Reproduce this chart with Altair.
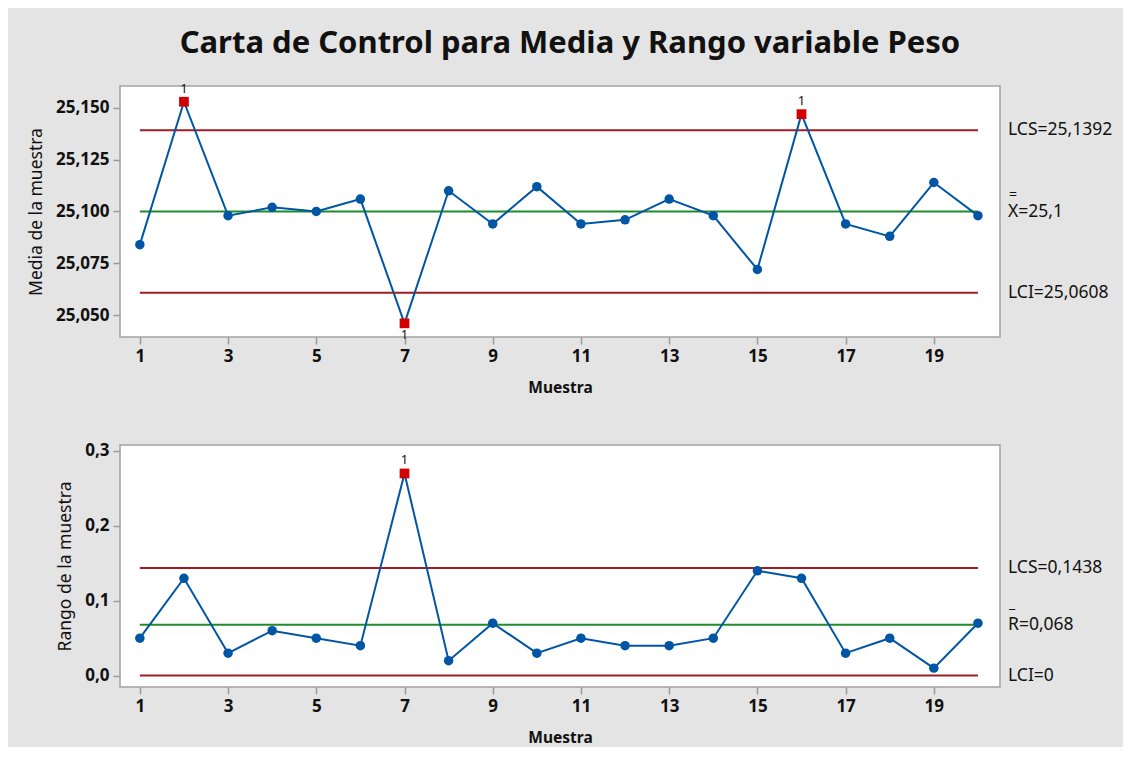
import altair as alt
import pandas as pd

# ---------------- data ----------------
muestra = list(range(1, 21))
media = [25.084, 25.153, 25.098, 25.102, 25.100, 25.106, 25.046, 25.110, 25.094, 25.112,
         25.094, 25.096, 25.106, 25.098, 25.072, 25.147, 25.094, 25.088, 25.114, 25.098]
rango = [0.05, 0.13, 0.03, 0.06, 0.05, 0.04, 0.27, 0.02, 0.07, 0.03,
         0.05, 0.04, 0.04, 0.05, 0.14, 0.13, 0.03, 0.05, 0.01, 0.07]
# test failed (0 = none, 1 = test 1)
prueba_media = [0, 1, 0, 0, 0, 0, 1, 0, 0, 0, 0, 0, 0, 0, 0, 1, 0, 0, 0, 0]
prueba_rango = [0, 0, 0, 0, 0, 0, 1, 0, 0, 0, 0, 0, 0, 0, 0, 0, 0, 0, 0, 0]

tipos = ["LCS", "LC", "LCI"]
limites_media = [25.1392, 25.1, 25.0608]
limites_rango = [0.1438, 0.068, 0.0]
etiquetas_media = ["LCS=25,1392", "X=25,1", "LCI=25,0608"]
etiquetas_rango = ["LCS=0,1438", "R=0,068", "LCI=0"]

x_ticks = [1, 3, 5, 7, 9, 11, 13, 15, 17, 19]
ticks_media = [25.050, 25.075, 25.100, 25.125, 25.150]
ticks_rango = [0.0, 0.1, 0.2, 0.3]

titulo = "Carta de Control para Media y Rango variable Peso"

# ---------------- style ----------------
FONT = "Noto Sans"
BLUE = "#0055A5"
RED_PT = "#D20000"
RED_LINE = "#A11D21"
GREEN = "#1F8B2B"
TXT = "#111111"
W = 880


def panel(values, pruebas, limites, etiquetas, barra, bar_dy, y_domain, y_ticks, y_fmt, y_title, h):
    df = pd.DataFrame({"muestra": muestra, "valor": values, "prueba": pruebas})
    dfl = pd.DataFrame({"valor": limites, "tipo": tipos, "etiqueta": etiquetas})
    centro = limites[1]

    xenc = alt.X("muestra:Q",
                 scale=alt.Scale(domain=[0.55, 20.5], nice=False, zero=False),
                 axis=alt.Axis(values=x_ticks, format="d", title="Muestra",
                               titleFontWeight="bold", titleFontSize=15.5, titlePadding=16,
                               labelPadding=4))
    yenc = alt.Y("valor:Q",
                 scale=alt.Scale(domain=y_domain, nice=False, zero=False),
                 axis=alt.Axis(values=y_ticks, title=y_title, titleFontWeight="normal",
                               titleFontSize=17.5, titlePadding=10, labelPadding=4,
                               labelExpr=f"replace(format(datum.value, '{y_fmt}'), '.', ',')"))

    base = alt.Chart(df)
    rules = alt.Chart(dfl).mark_rule(strokeWidth=2).encode(
        x=alt.datum(muestra[0]), x2=alt.datum(muestra[-1]), y=alt.Y("valor:Q"),
        color=alt.Color("tipo:N", scale=alt.Scale(domain=tipos, range=[RED_LINE, GREEN, RED_LINE]),
                        legend=None))
    line = base.mark_line(color=BLUE, strokeWidth=2).encode(x=xenc, y=yenc)
    pts = base.transform_filter("datum.prueba == 0").mark_circle(
        color=BLUE, size=90, opacity=1).encode(x="muestra:Q", y="valor:Q")
    sqs = base.transform_filter("datum.prueba > 0").mark_square(
        color=RED_PT, size=95, opacity=1).encode(x="muestra:Q", y="valor:Q")
    lab_up = base.transform_filter(f"datum.prueba > 0 && datum.valor >= {centro}").mark_text(
        dy=-13, fontSize=13, font=FONT, color=TXT).encode(
        x="muestra:Q", y="valor:Q", text="prueba:N")
    lab_dn = base.transform_filter(f"datum.prueba > 0 && datum.valor < {centro}").mark_text(
        dy=12, fontSize=13, font=FONT, color=TXT).encode(
        x="muestra:Q", y="valor:Q", text="prueba:N")
    lim_txt = alt.Chart(dfl).mark_text(align="left", baseline="middle", fontSize=17.5,
                                       font=FONT, color=TXT).encode(
        x=alt.value(W + 8), y="valor:Q", text="etiqueta:N")
    bar_txt = alt.Chart(dfl).transform_filter("datum.tipo == 'LC'").mark_text(
        align="left", baseline="middle", fontSize=14, font=FONT, color=TXT, dy=bar_dy).encode(
        x=alt.value(W + 9), y="valor:Q", text=alt.value(barra))

    return alt.layer(rules, line, pts, sqs, lab_up, lab_dn, lim_txt, bar_txt).properties(
        width=W, height=h)


top = panel(media, prueba_media, limites_media, etiquetas_media, "=", -17,
            [25.0394, 25.1606], ticks_media, ".3f", "Media de la muestra", 251)
bottom = panel(rango, prueba_rango, limites_rango, etiquetas_rango, "_", -21,
               [-0.0152, 0.308], ticks_rango, ".1f", "Rango de la muestra", 242)

chart = alt.vconcat(top, bottom, spacing=44).properties(
    title=alt.TitleParams(titulo, fontSize=31, fontWeight="bold", font=FONT, color=TXT,
                          anchor="middle", offset=22),
    padding={"left": 18, "top": 19, "right": 10, "bottom": 0},
    background="#E4E4E4",
).configure_view(
    fill="white", stroke="#A3A3A3", strokeWidth=1.5
).configure_axis(
    domain=False, grid=False, tickColor="#9A9A9A", tickSize=7, tickWidth=1.5,
    labelFont=FONT, labelFontSize=17, labelFontWeight="bold", labelColor=TXT,
    titleFont=FONT, titleColor=TXT
)

chart.save("out.html", embed_options={"renderer": "svg", "actions": False})
